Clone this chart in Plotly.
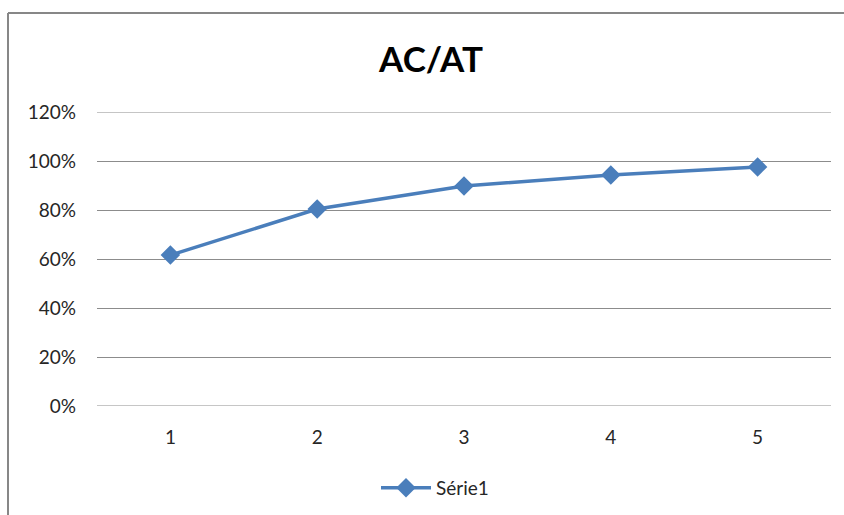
import plotly.graph_objects as go

# Ratio AC/AT per period
categories = [1, 2, 3, 4, 5]
ratio_values = [0.616, 0.804, 0.898, 0.943, 0.976]
y_ticks = [0, 0.2, 0.4, 0.6, 0.8, 1.0, 1.2]
series_name = "Série1"
chart_title = "AC/AT"

W, H = 844, 515
L, R, T, B = 97, 831, 112, 406  # plot area in pixels

fig = go.Figure()
fig.add_trace(go.Scatter(
    x=categories, y=ratio_values, name=series_name, mode="lines+markers",
    line=dict(color="#4A7EBB", width=3.5),
    marker=dict(symbol="diamond", size=15, color="#4A7EBB"),
))

def px_x(p):
    return (p - L) / (R - L)

def px_y(p):
    return (B - p) / (B - T)

grid_color = "#8C8C8C"
# gridlines on the edges of the value range (plotly drops them at the frame)
for v in (y_ticks[0], y_ticks[-1]):
    fig.add_shape(type="line", xref="paper", yref="y", x0=0, x1=1, y0=v, y1=v,
                  line=dict(color=grid_color, width=1), layer="below")

border = dict(color="#878787", width=2)
fig.add_shape(type="line", xref="paper", yref="paper",
              x0=px_x(8), x1=px_x(860), y0=px_y(13), y1=px_y(13), line=border)
fig.add_shape(type="line", xref="paper", yref="paper",
              x0=px_x(8), x1=px_x(8), y0=px_y(13), y1=px_y(530), line=border)

font_family = "Lato, 'Open Sans', sans-serif"
fig.update_layout(
    width=W, height=H,
    margin=dict(l=L, r=W - R, t=T, b=H - B),
    paper_bgcolor="white", plot_bgcolor="white",
    font=dict(family=font_family, size=19, color="#262626"),
    title=dict(text="<b>" + chart_title + "</b>", x=431 / W, xanchor="center",
               y=1 - 60 / H, yanchor="middle",
               font=dict(size=35, color="#000000", family=font_family)),
    xaxis=dict(range=[0.5, 5.5], tickvals=categories, showgrid=False,
               zeroline=False, showline=False, ticks="", ticklabelstandoff=18),
    yaxis=dict(range=[0, 1.2], tickvals=y_ticks, tickformat=".0%",
               showgrid=True, gridcolor=grid_color, gridwidth=1,
               zeroline=False, showline=False, ticks="", ticklabelstandoff=20),
    showlegend=True,
    legend=dict(orientation="h", xref="container", yref="container",
                x=435 / W, xanchor="center", y=1 - 488 / H, yanchor="middle",
                itemwidth=50, font=dict(size=19, color="#262626")),
)

fig.write_html("out.html")
